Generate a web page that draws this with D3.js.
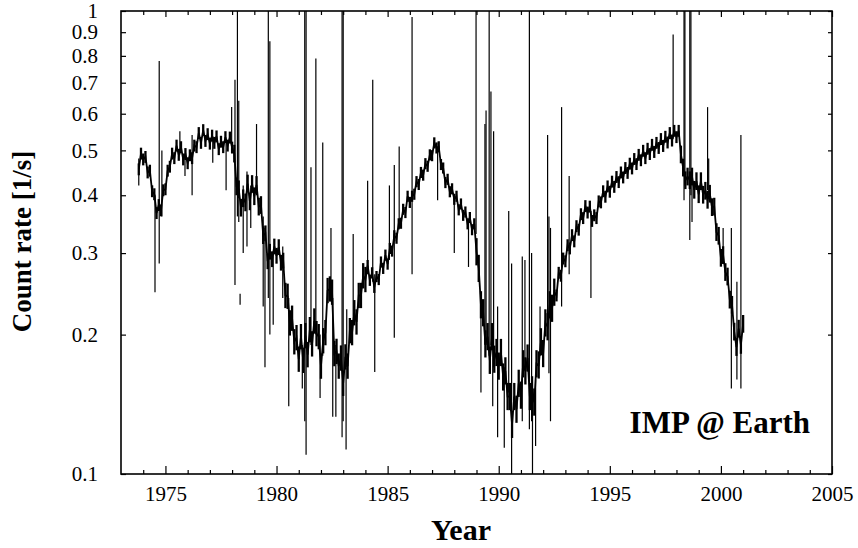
<!DOCTYPE html>
<html>
<head>
<meta charset="utf-8">
<script src="https://cdn.jsdelivr.net/npm/d3@7"></script>
<style>
  html, body { margin: 0; padding: 0; background: #fff; }
  svg { display: block; }
  text { font-family: "Liberation Serif", "Times New Roman", serif; fill: #000; }
</style>
</head>
<body>
<svg id="chart" width="858" height="548"></svg>
<script>
// IMP count rate at Earth, sampled every 0.1 year from 1973.8
const startYear = 1973.8;
const stepYear = 0.1;
const countRate = [
  0.455, 0.492, 0.478, 0.484, 0.448, 0.452, 0.408, 0.402, 0.366, 0.381,
  0.371, 0.410, 0.412, 0.452, 0.461, 0.492, 0.481, 0.512, 0.489, 0.508,
  0.478, 0.491, 0.469, 0.488, 0.481, 0.512, 0.508, 0.545, 0.519, 0.553,
  0.524, 0.542, 0.517, 0.538, 0.519, 0.536, 0.503, 0.522, 0.508, 0.534,
  0.512, 0.533, 0.507, 0.492, 0.418, 0.412, 0.376, 0.394, 0.386, 0.424,
  0.388, 0.423, 0.398, 0.421, 0.378, 0.381, 0.328, 0.331, 0.288, 0.302,
  0.291, 0.310, 0.296, 0.309, 0.286, 0.289, 0.243, 0.242, 0.212, 0.217,
  0.193, 0.197, 0.177, 0.198, 0.176, 0.199, 0.181, 0.205, 0.191, 0.214,
  0.201, 0.198, 0.171, 0.194, 0.202, 0.249, 0.251, 0.247, 0.182, 0.184,
  0.171, 0.178, 0.157, 0.179, 0.171, 0.204, 0.202, 0.223, 0.213, 0.243,
  0.243, 0.268, 0.263, 0.282, 0.262, 0.272, 0.253, 0.267, 0.263, 0.287,
  0.278, 0.297, 0.284, 0.307, 0.303, 0.327, 0.323, 0.347, 0.348, 0.373,
  0.367, 0.398, 0.386, 0.398, 0.402, 0.428, 0.422, 0.448, 0.442, 0.468,
  0.462, 0.489, 0.487, 0.519, 0.506, 0.509, 0.466, 0.458, 0.426, 0.433,
  0.407, 0.413, 0.392, 0.398, 0.372, 0.383, 0.362, 0.368, 0.347, 0.358,
  0.337, 0.347, 0.302, 0.278, 0.232, 0.223, 0.191, 0.198, 0.176, 0.198,
  0.177, 0.183, 0.171, 0.183, 0.162, 0.167, 0.147, 0.147, 0.128, 0.147,
  0.138, 0.157, 0.148, 0.173, 0.167, 0.178, 0.147, 0.152, 0.143, 0.173,
  0.172, 0.193, 0.182, 0.212, 0.208, 0.232, 0.228, 0.247, 0.243, 0.272,
  0.268, 0.292, 0.288, 0.312, 0.307, 0.328, 0.318, 0.343, 0.337, 0.364,
  0.357, 0.379, 0.367, 0.378, 0.352, 0.362, 0.357, 0.388, 0.386, 0.408,
  0.397, 0.418, 0.407, 0.428, 0.417, 0.438, 0.427, 0.448, 0.437, 0.458,
  0.447, 0.468, 0.457, 0.479, 0.467, 0.489, 0.476, 0.499, 0.481, 0.504,
  0.491, 0.514, 0.496, 0.519, 0.506, 0.529, 0.511, 0.535, 0.520, 0.545,
  0.525, 0.551, 0.534, 0.551, 0.490, 0.459, 0.431, 0.439, 0.431, 0.439,
  0.411, 0.429, 0.402, 0.429, 0.401, 0.409, 0.391, 0.403, 0.377, 0.378,
  0.333, 0.327, 0.293, 0.297, 0.273, 0.267, 0.238, 0.232, 0.203, 0.188,
  0.206, 0.190, 0.211
];

// Day-to-day scatter about the sampled rate, by epoch: [from, to, fraction]
const scatterEpochs = [
  [1973.75, 1978.05, 0.030],
  [1978.05, 1979.45, 0.045],
  [1979.45, 1980.35, 0.040],
  [1980.35, 1984.05, 0.065],
  [1984.05, 1988.95, 0.028],
  [1988.95, 1992.55, 0.070],
  [1992.55, 1998.15, 0.030],
  [1998.15, 2001.05, 0.045]
];

// Short-lived excursions: [year, low, high]
const spikes = [
  [1973.80, 0.42, 0.48], [1974.53, 0.247, 0.40], [1974.72, 0.285, 0.78],
  [1974.84, 0.36, 0.50], [1975.65, 0.49, 0.55], [1975.88, 0.44, 0.49],
  [1976.20, 0.40, 0.54], [1977.13, 0.47, 0.53], [1977.73, 0.41, 0.52],
  [1977.98, 0.50, 0.62], [1978.13, 0.256, 0.71], [1978.24, 0.36, 1.0],
  [1978.30, 0.35, 0.64], [1978.36, 0.232, 0.245], [1978.50, 0.30, 0.42],
  [1978.67, 0.31, 0.45], [1978.84, 0.34, 0.42], [1979.10, 0.40, 0.57],
  [1979.40, 0.23, 0.36], [1979.48, 0.17, 0.34], [1979.63, 0.24, 1.0],
  [1979.70, 0.20, 0.86], [1979.85, 0.21, 0.30], [1980.28, 0.24, 0.31],
  [1980.55, 0.14, 0.24], [1981.16, 0.153, 0.19], [1981.27, 0.13, 1.0],
  [1981.33, 0.11, 1.0], [1981.55, 0.19, 0.46], [1981.77, 0.20, 0.79],
  [1981.96, 0.146, 0.20], [1982.08, 0.18, 0.52], [1982.45, 0.24, 0.34],
  [1982.53, 0.133, 0.24], [1982.67, 0.133, 0.19], [1982.95, 0.12, 1.0],
  [1983.00, 0.13, 1.0], [1983.13, 0.113, 0.17], [1983.16, 0.17, 0.227],
  [1983.45, 0.21, 0.33], [1984.10, 0.27, 0.43], [1984.33, 0.26, 0.71],
  [1984.42, 0.166, 0.27], [1985.08, 0.29, 0.42], [1985.30, 0.197, 0.465],
  [1985.52, 0.34, 0.51], [1986.10, 0.27, 0.97], [1987.25, 0.39, 0.51],
  [1988.00, 0.30, 0.40], [1988.64, 0.28, 0.355], [1988.98, 0.33, 1.0],
  [1989.20, 0.15, 0.24], [1989.38, 0.19, 0.57], [1989.43, 0.19, 0.61],
  [1989.57, 0.18, 1.0], [1989.65, 0.19, 0.67], [1989.73, 0.14, 0.19],
  [1989.77, 0.17, 0.55], [1989.95, 0.12, 0.23], [1990.25, 0.114, 0.17],
  [1990.45, 0.15, 0.37], [1990.58, 0.10, 0.285], [1991.06, 0.13, 0.295],
  [1991.18, 0.17, 0.29], [1991.38, 0.125, 1.0], [1991.48, 0.13, 0.30],
  [1991.52, 0.10, 0.15], [1991.66, 0.115, 0.16], [1991.86, 0.18, 0.23],
  [1992.20, 0.21, 0.54], [1992.26, 0.165, 0.36], [1992.33, 0.13, 0.34],
  [1992.83, 0.23, 0.62], [1993.17, 0.27, 0.44], [1994.15, 0.24, 0.37],
  [1997.85, 0.53, 0.89], [1998.34, 0.39, 1.0], [1998.38, 0.42, 1.0],
  [1998.60, 0.32, 1.0], [1998.65, 0.40, 1.0], [1998.70, 0.35, 0.44],
  [1999.40, 0.41, 0.62], [1999.45, 0.40, 0.48], [2000.10, 0.29, 0.34],
  [2000.47, 0.153, 0.34], [2000.72, 0.16, 0.26], [2000.90, 0.153, 0.54]
];

const xMajorTicks = [1975, 1980, 1985, 1990, 1995, 2000, 2005];
const xMinorTicks = [1974, 1976, 1977, 1978, 1979, 1981, 1982, 1983, 1984, 1986,
  1987, 1988, 1989, 1991, 1992, 1993, 1994, 1996, 1997, 1998, 1999, 2001, 2002, 2003, 2004];
const yTicks = [0.1, 0.2, 0.3, 0.4, 0.5, 0.6, 0.7, 0.8, 0.9, 1];
const yTickLabels = ["0.1", "0.2", "0.3", "0.4", "0.5", "0.6", "0.7", "0.8", "0.9", "1"];

const margin = { left: 121, right: 26, top: 11, bottom: 74 };
const W = 858, H = 548;
const svg = d3.select("#chart");

const x = d3.scaleLinear().domain([1973, 2005]).range([margin.left, W - margin.right]);
const y = d3.scaleLog().domain([0.1, 1]).range([H - margin.bottom, margin.top]);

const series = countRate.map((v, i) => {
  const year = startYear + i * stepYear;
  const ep = scatterEpochs.find(e => year >= e[0] && year < e[1]);
  const s = ep ? ep[2] : 0.03;
  return { year, v, lo: v / (1 + s), hi: v * (1 + s) };
});

svg.append("defs").append("clipPath").attr("id", "plotClip")
  .append("rect")
  .attr("x", x(1973)).attr("y", y(1))
  .attr("width", x(2005) - x(1973)).attr("height", y(0.1) - y(1));

const plot = svg.append("g").attr("clip-path", "url(#plotClip)");

// scatter band of each sample
plot.selectAll("line.scatter").data(series).join("line")
  .attr("class", "scatter")
  .attr("x1", d => x(d.year)).attr("x2", d => x(d.year))
  .attr("y1", d => y(d.lo)).attr("y2", d => y(d.hi))
  .attr("stroke", "#000").attr("stroke-width", 2.3);

plot.selectAll("line.spike").data(spikes).join("line")
  .attr("class", "spike")
  .attr("x1", d => x(d[0])).attr("x2", d => x(d[0]))
  .attr("y1", d => y(d[1])).attr("y2", d => y(d[2]))
  .attr("stroke", "#000").attr("stroke-width", 1.2);

plot.append("path").datum(series)
  .attr("fill", "none").attr("stroke", "#000").attr("stroke-width", 1.8)
  .attr("d", d3.line().x(d => x(d.year)).y(d => y(d.v)));

// axes
const axB = svg.append("g").attr("transform", `translate(0,${y(0.1)})`)
  .call(d3.axisBottom(x).tickValues(xMajorTicks).tickSize(-8).tickPadding(12).tickFormat(d => d));
const axBm = svg.append("g").attr("transform", `translate(0,${y(0.1)})`)
  .call(d3.axisBottom(x).tickValues(xMinorTicks).tickSize(-4).tickFormat(""));
const axT = svg.append("g").attr("transform", `translate(0,${y(1)})`)
  .call(d3.axisTop(x).tickValues(xMajorTicks).tickSize(-6).tickFormat(""));
const axTm = svg.append("g").attr("transform", `translate(0,${y(1)})`)
  .call(d3.axisTop(x).tickValues(xMinorTicks).tickSize(-4).tickFormat(""));
const axL = svg.append("g").attr("transform", `translate(${x(1973)},0)`)
  .call(d3.axisLeft(y).tickValues(yTicks).tickSize(-5).tickPadding(23)
    .tickFormat((d, i) => yTickLabels[i]));
const axR = svg.append("g").attr("transform", `translate(${x(2005)},0)`)
  .call(d3.axisRight(y).tickValues(yTicks).tickSize(-4).tickFormat(""));

[axB, axBm, axT, axTm, axL, axR].forEach(g => {
  g.select(".domain").remove();
  g.selectAll(".tick line").attr("stroke", "#000").attr("stroke-width", 1.2);
  g.selectAll("text").style("font-family", '"Liberation Serif", serif')
    .style("font-size", "21px").attr("fill", "#000");
});

// frame
svg.append("rect")
  .attr("x", x(1973)).attr("y", y(1))
  .attr("width", x(2005) - x(1973)).attr("height", y(0.1) - y(1))
  .attr("fill", "none").attr("stroke", "#000").attr("stroke-width", 1.6);

// titles
svg.append("text")
  .attr("transform", `translate(31,${(y(1) + y(0.1)) / 2 - 1}) rotate(-90)`)
  .attr("text-anchor", "middle")
  .style("font-size", "27px").style("font-weight", "bold")
  .text("Count rate [1/s]");

svg.append("text")
  .attr("x", 461).attr("y", 540)
  .attr("text-anchor", "middle")
  .style("font-size", "30px").style("font-weight", "bold")
  .text("Year");

svg.append("text")
  .attr("x", 810).attr("y", 433)
  .attr("text-anchor", "end")
  .style("font-size", "31px").style("font-weight", "bold")
  .text("IMP @ Earth");
</script>
</body>
</html>
